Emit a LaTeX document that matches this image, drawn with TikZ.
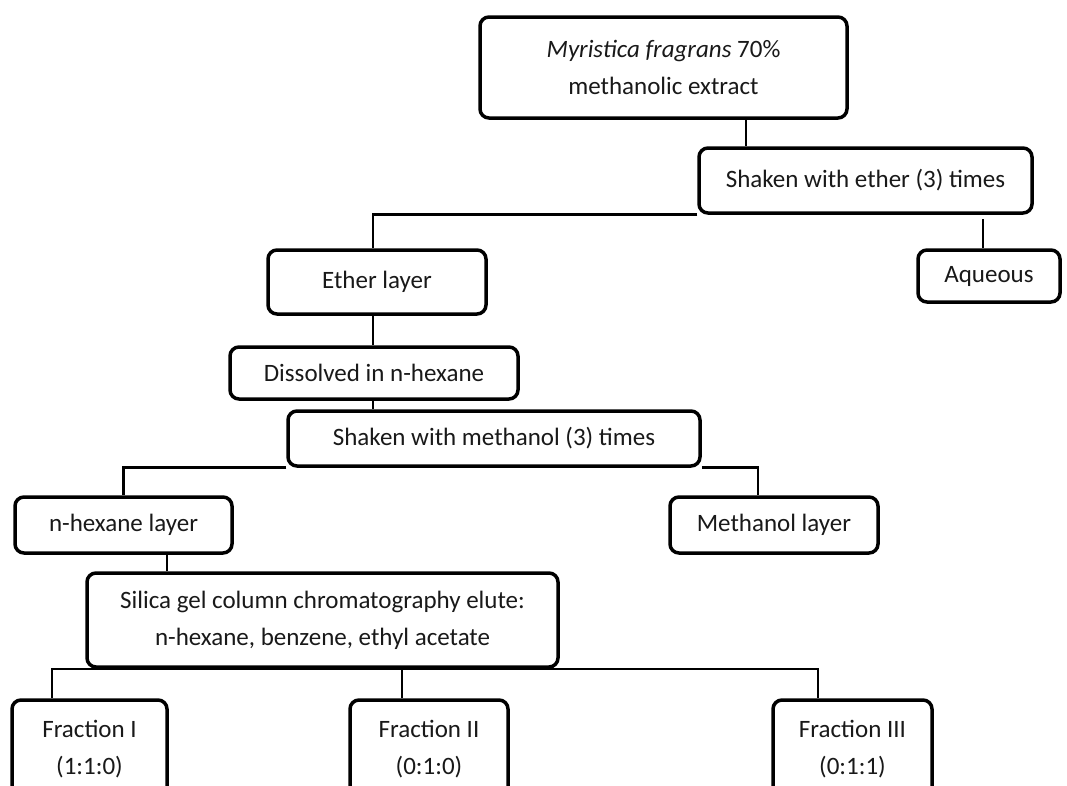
\documentclass[tikz,border=0pt]{standalone}
\usepackage{fontspec}
\setmainfont{Carlito}
\usetikzlibrary{calc}
\begin{document}
\begin{tikzpicture}[x=1pt,y=-1pt,
  box/.style={draw, line width=3.5pt, rounded corners=9pt, align=center, inner sep=0pt,
              font=\fontsize{25}{37}\selectfont, text=black!90},
  conn/.style={line width=2.8pt}]
\useasboundingbox (0,0) rectangle (1067,785);
\fill[white] (0,0) rectangle (1067,785);
\clip (0,0) rectangle (1067,785);
% nodes
\node[box, minimum width=367pt, minimum height=101pt] (top) at (663.5,67.5) {\textit{Myristica fragrans} 70\%\\methanolic extract};
\node[box, minimum width=333pt, minimum height=65pt] (sether) at (865.5,180.5) {Shaken with ether (3) times};
\node[box, minimum width=218pt, minimum height=64pt] (ether) at (377,282) {Ether layer};
\node[box, minimum width=142pt, minimum height=52pt] (aq) at (989,276) {Aqueous};
\node[box, minimum width=288pt, minimum height=52pt] (dis) at (374,373) {Dissolved in n-hexane};
\node[box, minimum width=412pt, minimum height=55pt] (smeth) at (494,438.5) {Shaken with methanol (3) times};
\node[box, minimum width=217pt, minimum height=56pt] (hex) at (123.5,525) {n-hexane layer};
\node[box, minimum width=208pt, minimum height=56pt] (meth) at (774,525) {Methanol layer};
\node[box, minimum width=471pt, minimum height=94pt] (silica) at (322.5,620) {Silica gel column chromatography elute:\\n-hexane, benzene, ethyl acetate};
\node[box, minimum width=155pt, minimum height=99pt] (f1) at (89.5,749.5) {Fraction I\\(1:1:0)};
\node[box, minimum width=158pt, minimum height=99pt] (f2) at (429,749.5) {Fraction II\\(0:1:0)};
\node[box, minimum width=159pt, minimum height=99pt] (f3) at (852.5,749.5) {Fraction III\\(0:1:1)};
% connectors
\coordinate (aqtop) at (983,219);
\coordinate (bus) at (0,669);
\draw[conn] ([xshift=82.5pt]top.south) -- ([xshift=82.5pt]top.south |- sether.north);
\draw[conn] (sether.south west) -| ([xshift=-4pt]ether.north);
\draw[conn] (aqtop) -- (aqtop |- aq.north);
\draw[conn] ([xshift=-4pt]ether.south) -- ([xshift=-4pt]ether.south |- dis.north);
\draw[conn] ([xshift=-1pt]dis.south) -- ([xshift=-1pt]dis.south |- smeth.north);
\draw[conn] (smeth.south west) -| (hex.north);
\draw[conn] (smeth.south east) -| ([xshift=-16pt]meth.north);
\draw[conn] ([xshift=43.5pt]hex.south) -- ([xshift=43.5pt]hex.south |- silica.north);
\draw[conn] ([xshift=-37.5pt]f1.north) -- ([xshift=-37.5pt]f1.north |- bus) -- ([xshift=-34.5pt]f3.north |- bus) -- ([xshift=-34.5pt]f3.north);
\draw[conn] ([xshift=-27pt]f2.north) -- ([xshift=-27pt]f2.north |- bus);
\end{tikzpicture}
\end{document}
